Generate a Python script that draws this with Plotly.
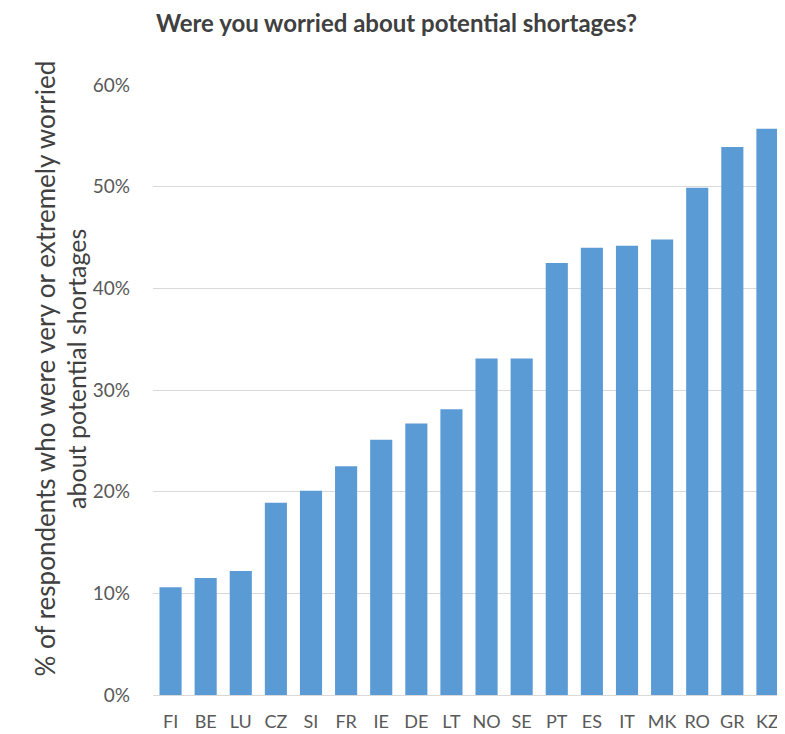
import plotly.graph_objs as go

countries = ["FI", "BE", "LU", "CZ", "SI", "FR", "IE", "DE", "LT", "NO",
             "SE", "PT", "ES", "IT", "MK", "RO", "GR", "KZ"]
worried = [0.106, 0.115, 0.122, 0.189, 0.201, 0.225, 0.251, 0.267, 0.281, 0.331,
           0.331, 0.425, 0.440, 0.442, 0.448, 0.499, 0.539, 0.557]
y_ticks = [0, 0.1, 0.2, 0.3, 0.4, 0.5, 0.6]
y_title_lines = ["% of respondents who were very or extremely worried",
                 "about potential shortages"]

font_family = "Lato, 'Open Sans', sans-serif"

fig = go.Figure()
fig.add_trace(
    go.Bar(
        x=countries,
        y=worried,
        marker=dict(color="#5B9BD5", line=dict(width=0)),
    )
)

# page body has an 8px margin, so the figure is a bit smaller than the window
fig.update_layout(
    width=777,
    height=726,
    paper_bgcolor="white",
    plot_bgcolor="white",
    bargap=0.37,
    showlegend=False,
    margin=dict(l=145, r=0, t=77, b=39),
    title=dict(
        text="<b>Were you worried about potential shortages?</b>",
        x=0.5,
        xanchor="center",
        y=0.978,
        yanchor="middle",
        font=dict(family=font_family, size=24, color="#404040"),
    ),
)

# y title as two annotations so the line spacing can match
for line, xpos, size in zip(y_title_lines, [-0.171, -0.123], [26, 25]):
    fig.add_annotation(
        text=line,
        xref="paper",
        yref="paper",
        x=xpos,
        y=0.535,
        xanchor="center",
        yanchor="middle",
        textangle=-90,
        showarrow=False,
        font=dict(family=font_family, size=size, color="#404040"),
    )

fig.update_yaxes(
    range=[0, 0.6],
    tickvals=y_ticks,
    tickformat=".0%",
    showgrid=True,
    gridcolor="#D9D9D9",
    gridwidth=1,
    zeroline=False,
    showline=False,
    ticks="",
    ticklabelstandoff=22,
    tickfont=dict(family=font_family, size=19, color="#595959"),
)
fig.update_xaxes(
    showline=True,
    linecolor="#D9D9D9",
    linewidth=1,
    ticks="",
    ticklabelstandoff=10,
    tickfont=dict(family=font_family, size=18, color="#595959"),
)

fig.write_html("out.html")
